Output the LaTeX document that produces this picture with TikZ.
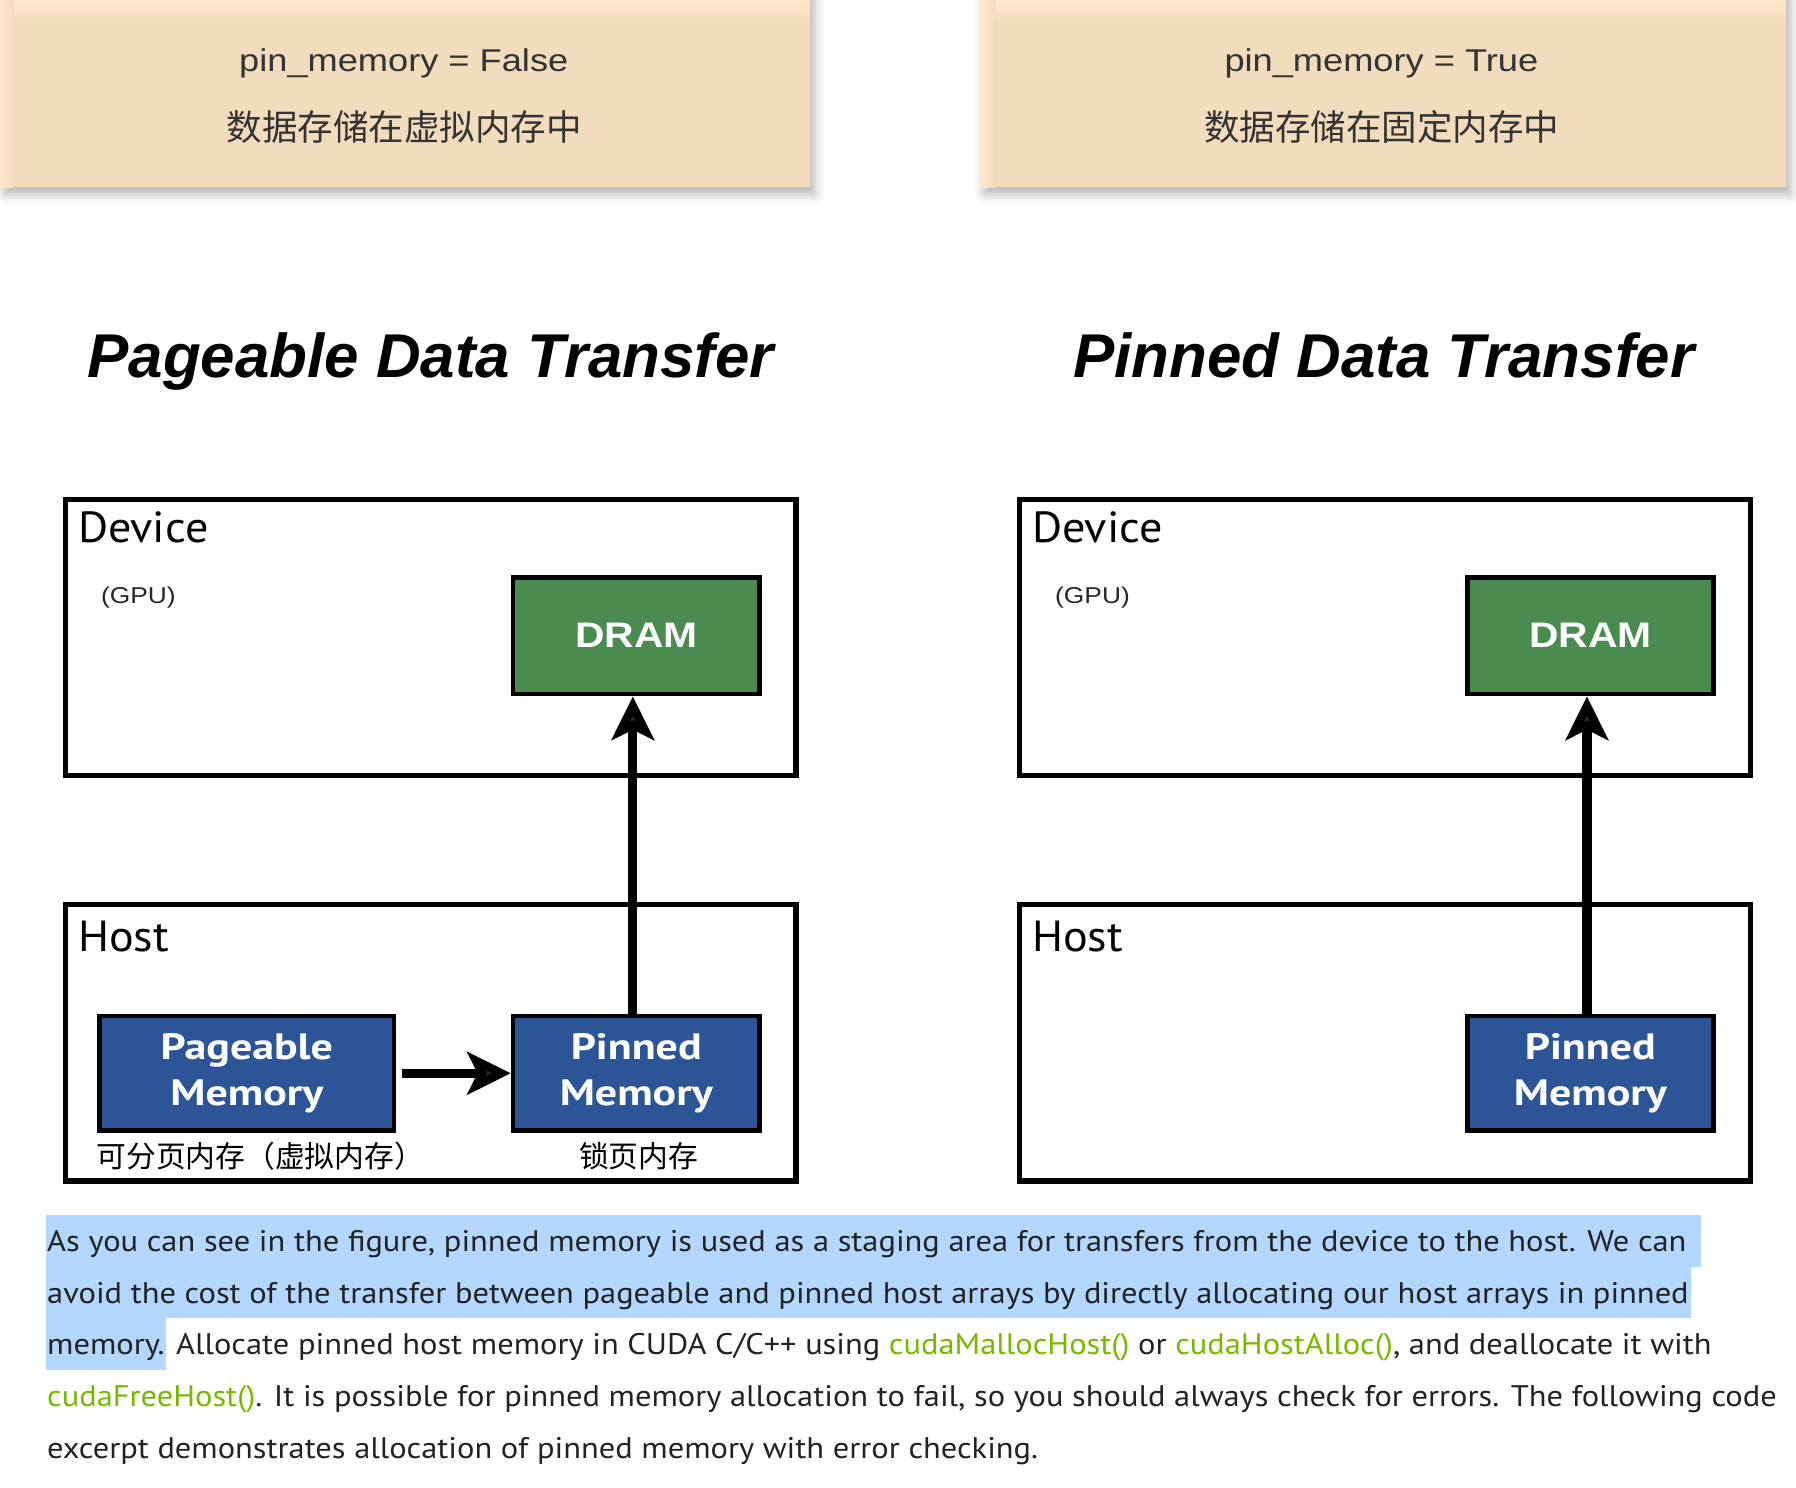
\documentclass[tikz,border=0pt]{standalone}
\usepackage{fontspec}
\setmainfont{Liberation Sans}
\newfontfamily\hdrfont{Liberation Sans}[FakeStretch=1.15]
\newfontfamily\cjkfont{Noto Sans CJK SC}
\newfontfamily\gillfont{PT Sans}[FakeStretch=1.06]
\newfontfamily\labelfont{PT Sans}[FakeStretch=1.2]
\newfontfamily\bodyfont{PT Sans}[FakeStretch=1.09]
\usetikzlibrary{positioning,arrows.meta,shadows.blur}
\definecolor{peach}{HTML}{F2DCBE}
\definecolor{peachtop}{HTML}{FFE8CD}
\definecolor{dramgreen}{HTML}{4A8C50}
\definecolor{memblue}{HTML}{2B5597}
\definecolor{codegreen}{HTML}{76B900}
\definecolor{selblue}{HTML}{B3D7FF}
\definecolor{inktext}{HTML}{333333}
\definecolor{bodyink}{HTML}{222222}
\newcommand\apicall[1]{\textcolor{codegreen}{#1}}
\tikzset{
  banner/.style={fill=peach,blur shadow={shadow xshift=4pt,shadow yshift=-6pt,shadow blur radius=9pt,shadow opacity=30}},
  flagtext/.style={text=inktext,inner sep=0pt,font=\hdrfont\fontsize{27.5}{33}\selectfont},
  flagcjk/.style={text=inktext,inner sep=0pt,font=\cjkfont\fontsize{31}{36}\selectfont},
  heading/.style={inner sep=0pt,font=\bfseries\itshape\fontsize{54}{60}\selectfont},
  frame/.style={draw,line width=4.5pt,minimum width=638pt,minimum height=241pt,inner sep=0pt},
  tag/.style={inner sep=0pt,font=\gillfont\fontsize{38}{40}\selectfont},
  gputag/.style={inner sep=0pt,text=black!85,font=\hdrfont\fontsize{20}{24}\selectfont},
  dram/.style={draw,line width=4pt,fill=dramgreen,text=white,minimum width=215pt,minimum height=102pt,inner sep=0pt,font=\hdrfont\bfseries\fontsize{31}{36}\selectfont},
  mem/.style={draw,line width=4pt,fill=memblue,text=white,minimum height=100pt,inner sep=0pt,align=center,font=\labelfont\bfseries\fontsize{32}{40.7}\selectfont},
  caption/.style={inner sep=0pt,font=\cjkfont\fontsize{26}{30}\selectfont},
  flow/.style={line width=8pt,-{Stealth[length=38pt,width=37pt,inset=9pt]}},
  bodyline/.style={anchor=base west,inner sep=0pt,text=bodyink,font=\bodyfont\fontsize{26}{30}\selectfont}
}
\begin{document}
\begin{tikzpicture}[x=1pt,y=-1pt]
\useasboundingbox (0,0) rectangle (1568,1299);
% banners
\path[banner] (0,-20) rectangle (707,163.5);
\path[banner] (855.6,-20) rectangle (1559,163.5);
\shade[top color=peachtop,bottom color=peach] (0,0) rectangle (707,18);
\shade[left color=peachtop,right color=peach] (0,0) rectangle (12,163.5);
\shade[top color=peachtop,bottom color=peach] (855.6,0) rectangle (1559,18);
\shade[left color=peachtop,right color=peach] (855.6,0) rectangle (869,163.5);
\node[flagtext,anchor=base] (flagF) at (352.5,62.6) {pin\_memory = False};
\node[flagcjk] (noteF) at (353,111) {数据存储在虚拟内存中};
\node[flagtext,anchor=base] (flagT) at (1206,62.6) {pin\_memory = True};
\node[flagcjk] (noteT) at (1206.5,111) {数据存储在固定内存中};
% headings
\node[heading,anchor=base] (headL) at (376,330) {Pageable Data Transfer};
\node[heading,anchor=base] (headR) at (1208,330) {Pinned Data Transfer};
% pageable side
\node[frame] (devL) at (376,556.5) {};
\node[frame] (hostL) at (376,910.5) {};
\node[tag,anchor=base west] (devLtag) at (68,474) {Device};
\node[gputag,anchor=base west] (gpuL) at (88,527) {(GPU)};
\node[tag,anchor=base west] (hostLtag) at (68,831) {Host};
\node[dram] (dramL) at (555.5,555) {DRAM};
\node[mem,minimum width=257pt] (pageL) at (215.5,937) {Pageable\\Memory};
\node[mem,minimum width=215pt] (pinL) at (555.5,937) {Pinned\\Memory};
\node[caption,anchor=west] (capPage) at (84,1009) {可分页内存（虚拟内存）};
\node[caption] (capPin) at (557.5,1009) {锁页内存};
\draw[flow,shorten <=5pt] (pageL.east) -- (pinL.west);
\draw[flow] ([xshift=-3pt]pinL.north) -- ([xshift=-3pt]dramL.south);
% pinned side
\node[frame] (devR) at (1209,556.5) {};
\node[frame] (hostR) at (1209,910.5) {};
\node[tag,anchor=base west] (devRtag) at (901,474) {Device};
\node[gputag,anchor=base west] (gpuR) at (921,527) {(GPU)};
\node[tag,anchor=base west] (hostRtag) at (901,831) {Host};
\node[dram] (dramR) at (1388.5,555) {DRAM};
\node[mem,minimum width=215pt] (pinR) at (1388.5,937) {Pinned\\Memory};
\draw[flow] ([xshift=-3pt]pinR.north) -- ([xshift=-3pt]dramR.south);
% text below
\fill[selblue] (40,1061) rectangle (1485,1106);
\fill[selblue] (40,1106) rectangle (1476,1151);
\fill[selblue] (40,1151) rectangle (145,1196);
\node[bodyline] (line1) at (41,1092.5) {As you can see in the figure, pinned memory is used as a staging area for transfers from the device to the host. We can};
\node[bodyline] (line2) at (41,1137.6) {avoid the cost of the transfer between pageable and pinned host arrays by directly allocating our host arrays in pinned};
\node[bodyline] (line3) at (41,1182.7) {memory. Allocate pinned host memory in CUDA C/C++ using \apicall{cudaMallocHost()} or \apicall{cudaHostAlloc()}, and deallocate it with};
\node[bodyline] (line4) at (41,1227.8) {\apicall{cudaFreeHost()}. It is possible for pinned memory allocation to fail, so you should always check for errors. The following code};
\node[bodyline] (line5) at (41,1272.9) {excerpt demonstrates allocation of pinned memory with error checking.};
\end{tikzpicture}
\end{document}
